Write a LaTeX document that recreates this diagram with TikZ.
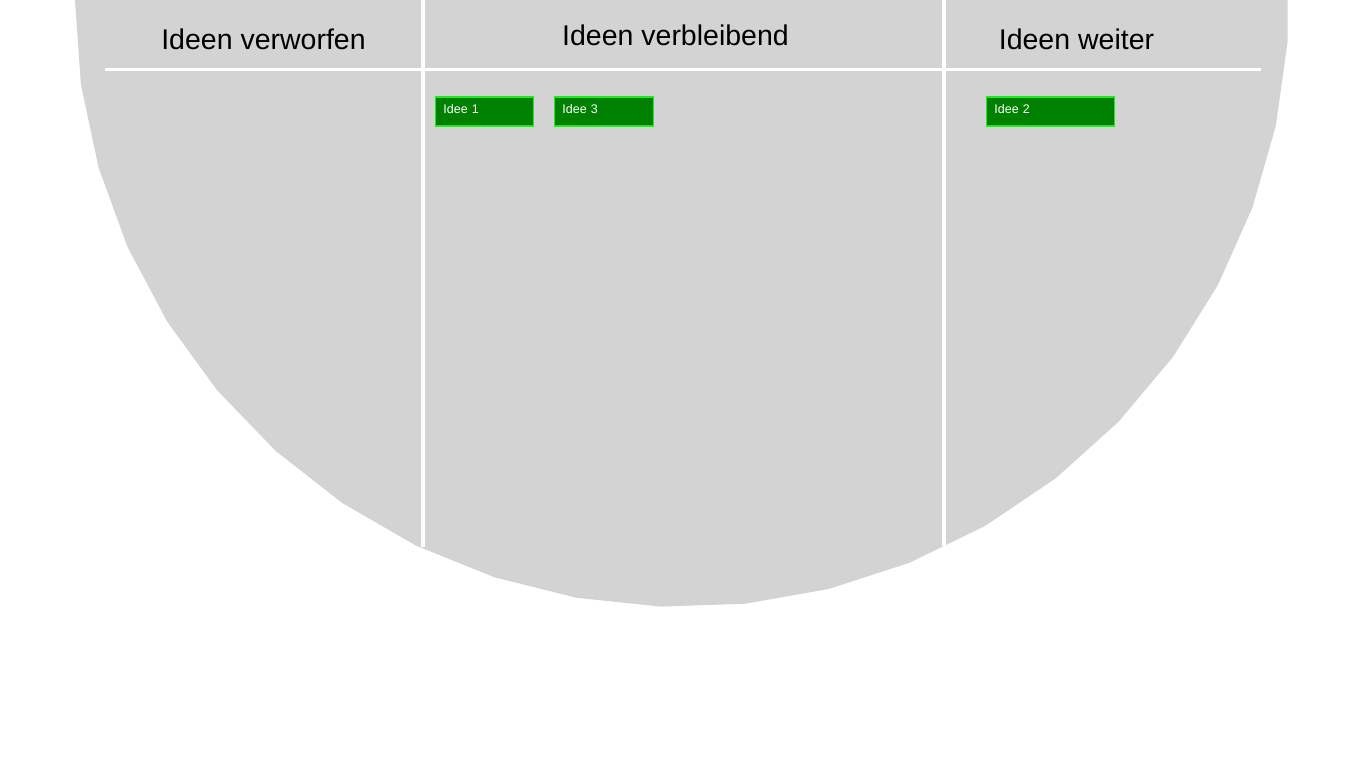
\documentclass[tikz,border=0pt]{standalone}
\usepackage{fontspec}
\setmainfont{Liberation Sans}
\definecolor{boardgray}{RGB}{211,211,211}
\definecolor{cardfill}{RGB}{0,128,0}
\definecolor{cardline}{RGB}{30,235,30}
\tikzset{
  heading/.style={anchor=base,font=\fontsize{28.5}{34}\selectfont,text=black},
  card/.style={anchor=north west,draw=cardline,line width=1.8pt,fill=cardfill,
    text=white,font=\fontsize{12.5}{14}\selectfont,align=left,
    inner xsep=8pt,inner ysep=7.2pt,text height=9pt,text depth=5pt},
  divider/.style={white,line width=4pt},
}

\begin{document}
\begin{tikzpicture}[x=1pt,y=-1pt]
  \useasboundingbox (0,0) rectangle (1366,768);
  \clip (0,0) rectangle (1366,768);
  % board: 45-gon, lower half visible
  \fill[boardgray] (682,-200)
    \foreach \a in {-8,0,...,184} { -- ({682-607*cos(\a)},{607*sin(\a)}) } -- cycle;
  \draw[white,line width=3pt] (105,70)--(1261,70);
  \draw[divider] (422.5,0)--(422.5,547);
  \draw[divider] (944,0)--(944,546);
  \node[heading] (verworfen) at (263.5,49.5) {Ideen verworfen};
  \node[heading] (verbleibend) at (675.5,46) {Ideen verbleibend};
  \node[heading] (weiter) at (1076.5,49.5) {Ideen weiter};
  \node[card,text width=82pt] (idee1) at (434.5,96.5) {Idee 1};
  \node[card,text width=83pt] (idee3) at (553.5,96.5) {Idee 3};
  \node[card,text width=112pt] (idee2) at (985.5,96.5) {Idee 2};
\end{tikzpicture}
\end{document}
